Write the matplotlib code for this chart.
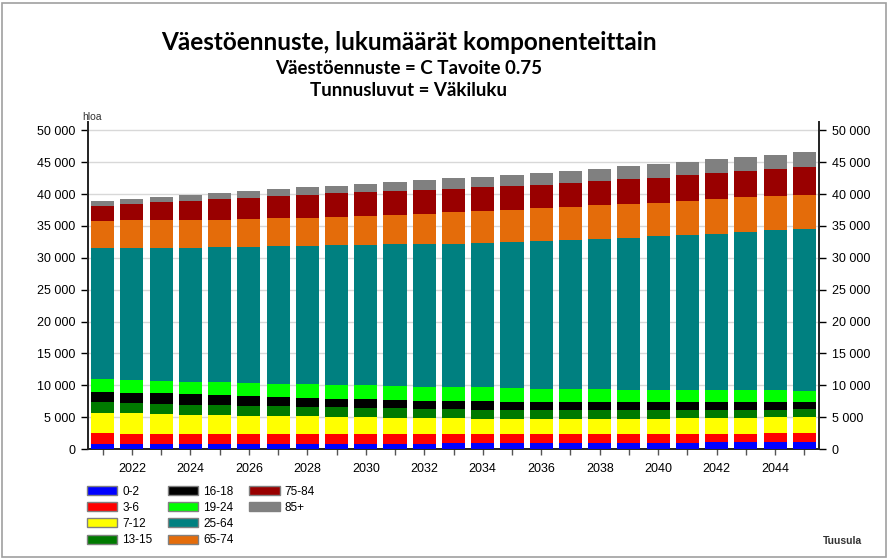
import matplotlib
matplotlib.use("Agg")
import matplotlib.pyplot as plt
from matplotlib.patches import Patch, Rectangle
from matplotlib.ticker import FuncFormatter, MultipleLocator
import numpy as np

years = list(range(2021, 2046))
labels = ["0-2", "3-6", "7-12", "13-15", "16-18", "19-24", "25-64", "65-74", "75-84", "85+"]
colors = ["#0000FF", "#FF0000", "#FFFF00", "#007A00", "#000000", "#00FF00",
          "#008080", "#E46C0A", "#990000", "#808080"]

age_0_2 = [800, 800, 800, 800, 800, 800, 800, 800, 850, 850, 850, 850, 900,
           920, 950, 950, 950, 1000, 1000, 1000, 1000, 1050, 1050, 1060, 1060]
age_3_6 = [1720, 1620, 1620, 1620, 1620, 1620, 1620, 1620, 1570, 1570, 1570, 1570, 1500,
           1480, 1470, 1470, 1470, 1420, 1420, 1420, 1420, 1370, 1370, 1420, 1420]
age_7_12 = [3160, 3160, 3050, 2950, 2840, 2790, 2740, 2690, 2580, 2530, 2470, 2420, 2400,
            2360, 2320, 2320, 2320, 2320, 2320, 2320, 2370, 2420, 2470, 2470, 2570]
age_13_15 = [1630, 1680, 1630, 1570, 1580, 1580, 1520, 1520, 1520, 1470, 1480, 1470, 1420,
             1420, 1420, 1360, 1360, 1360, 1360, 1310, 1260, 1210, 1210, 1210, 1160]
age_16_18 = [1690, 1580, 1630, 1640, 1580, 1520, 1420, 1370, 1370, 1370, 1310, 1270, 1290,
             1310, 1210, 1270, 1210, 1210, 1210, 1260, 1260, 1260, 1210, 1210, 1210]
age_19_24 = [1940, 2000, 1950, 1990, 2050, 2050, 2160, 2150, 2160, 2210, 2210, 2200, 2180,
             2160, 2150, 2100, 2110, 2050, 2000, 1950, 1950, 1900, 1900, 1840, 1730]
age_25_64 = [20540, 20740, 20900, 21010, 21170, 21330, 21590, 21740, 21910, 22000, 22220, 22380, 22530,
             22690, 22910, 23120, 23320, 23540, 23840, 24120, 24270, 24570, 24890, 25110, 25420]
age_65_74 = [4310, 4320, 4370, 4370, 4350, 4370, 4360, 4420, 4510, 4620, 4630, 4780, 4890,
             5000, 5140, 5200, 5260, 5360, 5320, 5250, 5370, 5430, 5360, 5300, 5320]
age_75_84 = [2360, 2570, 2730, 2950, 3160, 3360, 3410, 3580, 3620, 3630, 3730, 3630, 3690,
             3720, 3630, 3680, 3740, 3730, 3830, 3940, 4030, 4100, 4170, 4320, 4420]
age_85p = [700, 740, 850, 1010, 1010, 1010, 1120, 1170, 1230, 1390, 1490, 1640, 1660,
           1690, 1840, 1890, 1930, 2000, 2050, 2160, 2160, 2150, 2250, 2260, 2310]

series = [age_0_2, age_3_6, age_7_12, age_13_15, age_16_18, age_19_24,
          age_25_64, age_65_74, age_75_84, age_85p]

fig = plt.figure(figsize=(8.9, 5.6), dpi=100)
plt.rcParams['font.family'] = ['Liberation Sans', 'DejaVu Sans']

ax = fig.add_axes([88/890, 1-449/560, (819-88)/890, (449-122)/560])
bottom = np.zeros(len(years))
handles = []
for vals, lab, col in zip(series, labels, colors):
    ax.bar(years, vals, bottom=bottom, width=0.79, color=col, linewidth=0, zorder=3)
    bottom += np.array(vals)
    handles.append(Patch(facecolor=col, edgecolor="#808080", linewidth=1.0, label=lab))

ax.set_xlim(2020.5, 2045.5)
ax.set_ylim(0, 51300)
ax.yaxis.set_major_locator(MultipleLocator(5000))
fmt = FuncFormatter(lambda v, p: f"{int(v):,}".replace(",", " "))
ax.yaxis.set_major_formatter(fmt)
ax.grid(axis='y', color="#d8d8d8", linewidth=1.0, zorder=0)
ax.set_axisbelow(True)
ax.set_xticks(years, minor=False)
ax.set_xticklabels([str(y) if y % 2 == 0 else "" for y in years], fontsize=9)
ax.tick_params(axis='x', length=4, width=1, color="#555555", pad=6)
ax.tick_params(axis='y', length=5, width=1, labelsize=9, left=True, right=True,
               labelleft=True, labelright=True, pad=4)
for s in ['left', 'right', 'bottom']:
    ax.spines[s].set_color("#222222")
    ax.spines[s].set_linewidth(1.4)
ax.spines['top'].set_visible(False)

fig.text(82/890, 1-117/560, "hloa", fontsize=7.5, ha='left', va='center', color="#333333")

fig.text(409/890, 1-43/560, "Väestöennuste, lukumäärät komponenteittain",
         fontsize=17.5, fontweight='bold', family=['Lato', 'DejaVu Sans'], ha='center', va='center')
fig.text(409/890, 1-68/560, "Väestöennuste = C Tavoite 0.75",
         fontsize=13.5, fontweight='bold', family=['Lato', 'DejaVu Sans'], ha='center', va='center')
fig.text(409/890, 1-91/560, "Tunnusluvut = Väkiluku",
         fontsize=13.5, fontweight='bold', family=['Lato', 'DejaVu Sans'], ha='center', va='center')

blank = Patch(visible=False, label="")
leg = fig.legend(handles=handles + [blank, blank], ncol=3, loc='upper left',
                 bbox_to_anchor=(82/890, 1-481/560), frameon=False, fontsize=8.5,
                 handlelength=2.6, handleheight=0.8, labelspacing=0.35,
                 columnspacing=1.3, handletextpad=0.4, borderaxespad=0)

fig.text(862/890, 1-541/560, "Tuusula", fontsize=7.5, fontweight='bold',
         ha='right', va='center', color="#333333")

fig.patches.append(Rectangle((2/890, 3/560), 884/890, 554/560, transform=fig.transFigure,
                             fill=False, edgecolor="#a0a0a0", linewidth=1.2))

fig.savefig("out.png", dpi=100)
